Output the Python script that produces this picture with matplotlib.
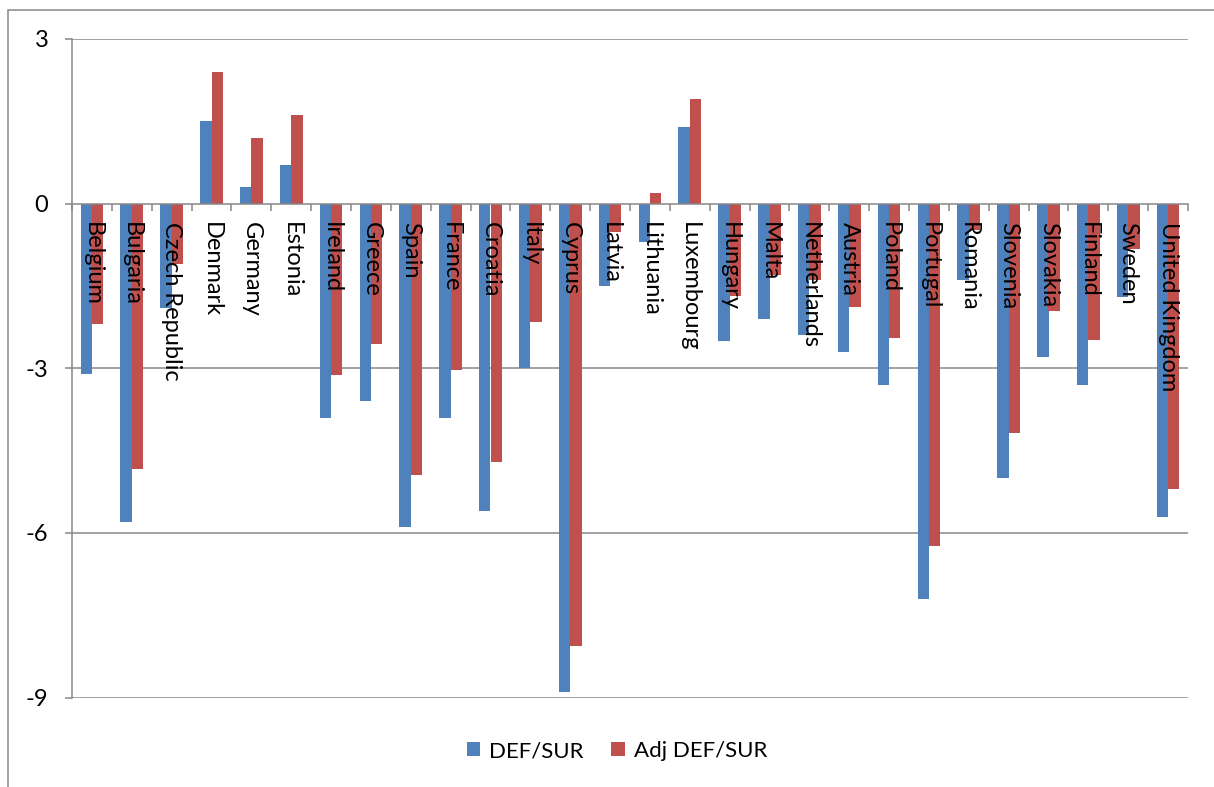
import numpy as np
import matplotlib
matplotlib.use("Agg")
import matplotlib.pyplot as plt
import matplotlib.transforms as mtransforms
from matplotlib.patches import Rectangle

plt.rcParams['font.family'] = ['Lato', 'DejaVu Sans']

countries = ["Belgium", "Bulgaria", "Czech Republic", "Denmark", "Germany", "Estonia",
             "Ireland", "Greece", "Spain", "France", "Croatia", "Italy", "Cyprus",
             "Latvia", "Lithuania", "Luxembourg", "Hungary", "Malta", "Netherlands",
             "Austria", "Poland", "Portugal", "Romania", "Slovenia", "Slovakia",
             "Finland", "Sweden", "United Kingdom"]
def_sur = [-3.1, -5.8, -1.9, 1.5, 0.3, 0.7, -3.9, -3.6, -5.9, -3.9, -5.6, -3.0, -8.9,
           -1.5, -0.7, 1.4, -2.5, -2.1, -2.4, -2.7, -3.3, -7.2, -1.4, -5.0, -2.8,
           -3.3, -1.7, -5.7]
adj_def_sur = [-2.2, -4.83, -1.1, 2.4, 1.2, 1.62, -3.13, -2.56, -4.94, -3.03, -4.7, -2.15, -8.06,
               -0.52, 0.2, 1.9, -1.68, -1.31, -1.4, -1.89, -2.45, -6.24, -0.49, -4.18, -1.96,
               -2.48, -0.83, -5.2]
series_names = ["DEF/SUR", "Adj DEF/SUR"]
y_ticks = [3, 0, -3, -6, -9]

BLUE = "#4F81BD"
RED = "#C0504D"
GRID = "#878787"

W, H = 1214, 787
fig = plt.figure(figsize=(W / 100, H / 100), dpi=100)
ax = fig.add_axes([72 / W, (H - 697.7) / H, (1188 - 72) / W, (697.7 - 38.8) / H])

x = np.arange(len(countries))
bw = 0.285
b1 = ax.bar(x - bw / 2, def_sur, bw, color=BLUE, label=series_names[0], zorder=3)
b2 = ax.bar(x + bw / 2, adj_def_sur, bw, color=RED, label=series_names[1], zorder=3)

ax.set_xlim(-0.5, len(countries) - 0.5)
ax.set_ylim(-9, 3)

# horizontal gridlines
for yv in y_ticks:
    if yv != 0:
        ax.axhline(yv, color=GRID, lw=1.1, zorder=1)

# axes lines
for s in ["top", "right"]:
    ax.spines[s].set_visible(False)
ax.spines["left"].set_color(GRID)
ax.spines["left"].set_linewidth(1.1)
ax.spines["bottom"].set_position(("data", 0))
ax.spines["bottom"].set_color(GRID)
ax.spines["bottom"].set_linewidth(1.1)
ax.spines["bottom"].set_zorder(4)

ax.set_yticks(y_ticks)
ax.set_yticklabels([str(v) for v in y_ticks])
ax.tick_params(axis="y", length=5, width=1.1, color=GRID, pad=12, labelsize=17)

# category boundary ticks on the zero line
ax.set_xticks(np.arange(len(countries) + 1) - 0.5)
ax.set_xticklabels([])
ax.tick_params(axis="x", length=5, width=1.1, color=GRID, direction="out")

# category labels drawn over the bars
off = mtransforms.ScaledTranslation(0, -18 / 100, fig.dpi_scale_trans)
for i, name in enumerate(countries):
    ax.text(i, 0, name, rotation=270, ha="center", va="top", fontsize=17,
            transform=ax.transData + off, zorder=6)

leg = fig.legend(handles=[b1, b2], labels=series_names, loc="center",
                 bbox_to_anchor=(617 / W, (H - 751) / H), ncol=2, frameon=False,
                 fontsize=16, handlelength=0.6, handleheight=0.6, handletextpad=0.4,
                 columnspacing=1.25)

# outer chart frame
fig.add_artist(Rectangle((7.5 / W, -0.1), 1.0, (H - 9.5) / H + 0.1,
                         transform=fig.transFigure, fill=False,
                         edgecolor=GRID, lw=1.1))

fig.savefig("out.png", dpi=100)
